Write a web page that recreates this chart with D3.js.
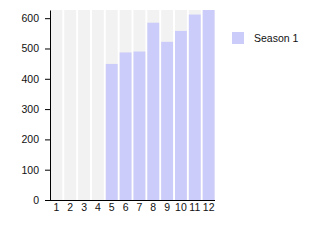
<!DOCTYPE html>
<html>
<head>
<meta charset="utf-8">
<script src="https://cdn.jsdelivr.net/npm/d3@7"></script>
<style>
  body { margin: 0; background: #fff; }
  text { font-family: "Liberation Sans", Arial, sans-serif; }
</style>
</head>
<body>
<div id="chart"></div>
<script>
const categories = ['1', '2', '3', '4', '5', '6', '7', '8', '9', '10', '11', '12']
const seriesName = 'Season 1'
const values = [0, 0, 0, 0, 449, 487, 490, 585, 522, 558, 612, 627]
const yTicks = [0, 100, 200, 300, 400, 500, 600]

const width = 315
const height = 250
const margin = {top: 10, right: 100, bottom: 50, left: 50}

const svg = d3.select('#chart').append('svg')
  .attr('width', width)
  .attr('height', height)

const x = d3.scaleBand()
  .domain(categories)
  .range([margin.left, width - margin.right])
  .paddingInner(0.14)
  .paddingOuter(0.03)

const y = d3.scaleLinear()
  .domain([0, d3.max(values)])
  .range([height - margin.bottom, margin.top])

// background columns
svg.append('g')
  .selectAll('rect')
  .data(categories)
  .join('rect')
    .attr('x', d => x(d))
    .attr('y', margin.top)
    .attr('width', x.bandwidth())
    .attr('height', height - margin.bottom - margin.top)
    .attr('fill', '#f2f2f2')

// bars
svg.append('g')
  .selectAll('rect')
  .data(values)
  .join('rect')
    .attr('x', (d, i) => x(categories[i]))
    .attr('y', d => y(d))
    .attr('width', x.bandwidth())
    .attr('height', d => y(0) - y(d))
    .attr('fill', '#ccccfa')

// y axis
const yAxis = svg.append('g')
  .attr('transform', `translate(${margin.left},0)`)
  .call(d3.axisLeft(y).tickValues(yTicks).tickSize(5).tickPadding(6).tickSizeOuter(0))
yAxis.select('.domain').attr('stroke', '#000')
yAxis.selectAll('text').attr('font-size', 10.5).attr('fill', '#111')

// x axis
const xAxis = svg.append('g')
  .attr('transform', `translate(0,${height - margin.bottom})`)
  .call(d3.axisBottom(x).tickSize(0).tickPadding(4).tickSizeOuter(0))
xAxis.select('.domain').attr('stroke', '#000').attr('d', `M${margin.left},0.5H${width - margin.right}`)
xAxis.selectAll('text').attr('font-size', 10.5).attr('fill', '#111')

// legend
const legend = svg.append('g').attr('transform', 'translate(232,32)')
legend.append('rect')
  .attr('width', 12)
  .attr('height', 12)
  .attr('fill', '#ccccfa')
legend.append('text')
  .attr('x', 22)
  .attr('y', 6)
  .attr('dy', '0.35em')
  .attr('font-size', 10.5)
  .attr('fill', '#111')
  .text(seriesName)
</script>
</body>
</html>
